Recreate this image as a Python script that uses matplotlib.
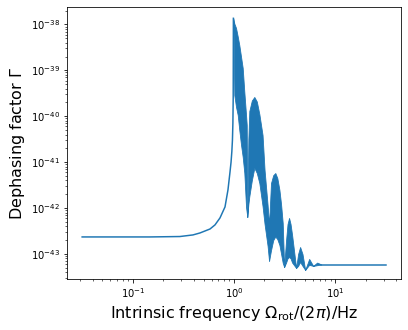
import numpy as np
import matplotlib
matplotlib.use("Agg")
import matplotlib.pyplot as plt

# smooth resonance part, left of the peak
res_x = [0.0316, 0.147, 0.292, 0.393, 0.461, 0.579, 0.649, 0.727, 0.815,
         0.872, 0.913, 0.935, 0.952, 0.965, 0.975, 0.982, 0.986]
res_y = [2.35e-43, 2.35e-43, 2.4e-43, 2.6e-43, 2.87e-43, 3.5e-43, 4.3e-43,
         6.1e-43, 1.06e-42, 2.5e-42, 6.1e-42, 1.0e-41, 1.7e-41, 3.0e-41,
         7e-41, 2.5e-40, 1.36e-38]

# fast oscillating band: upper and lower envelope
band_x = [0.986, 1.007, 1.047, 1.088, 1.128, 1.173, 1.219, 1.265, 1.315, 1.336,
          1.354, 1.386, 1.417, 1.50, 1.588, 1.68, 1.78, 1.915, 2.004, 2.147,
          2.22, 2.32, 2.44, 2.56, 2.68, 2.81, 2.92, 3.03, 3.13, 3.27,
          3.38, 3.50, 3.62, 3.75, 4.11, 4.3, 4.5, 4.75, 5.05, 5.53,
          6.06, 6.63, 7.3]
band_hi = [1.36e-38, 1.05e-38, 8.4e-39, 5.5e-39, 3.57e-39, 2.0e-39, 1.13e-39,
           3.4e-40, 1.07e-40, 6.5e-41, 6.4e-43, 3.05e-41, 1.3e-40, 2.2e-40,
           2.63e-40, 2.1e-40, 1.12e-40, 3.9e-41, 6.8e-42, 1.17e-42, 4.3e-43,
           3.5e-42, 5.2e-42, 5.8e-42, 4.5e-42, 2.5e-42, 1.2e-42, 4.7e-43,
           5.2e-44, 2.0e-43, 4.5e-43, 6.1e-43, 4.5e-43, 2.6e-43, 4.95e-44,
           1.0e-43, 1.42e-43, 1.0e-43, 4.5e-44, 7.8e-44, 5.5e-44, 6.5e-44,
           5.9e-44]
band_lo = [1.36e-38, 2.9e-40, 1.6e-40, 1.07e-40, 5e-41, 2.4e-41, 1.3e-41,
           5.8e-42, 1.06e-42, 8e-43, 6.4e-43, 1.2e-42, 1.8e-42, 4e-42,
           7.5e-42, 5.8e-42, 3.5e-42, 1.1e-42, 4.5e-43, 1.5e-43, 7e-44,
           1.2e-43, 2e-43, 2.4e-43, 2.1e-43, 1.57e-43, 1e-43, 6.4e-44,
           5.2e-44, 6.5e-44, 8e-44, 8.6e-44, 8e-44, 6.5e-44, 4.95e-44,
           5.5e-44, 6.7e-44, 5.5e-44, 4.5e-44, 5.8e-44, 5.5e-44, 5.7e-44,
           5.9e-44]

# flat tail
tail_x = [7.3, 31.6]
tail_y = [5.9e-44, 5.9e-44]

c = "#1f77b4"

fig = plt.figure(figsize=(408 / 72, 330 / 72), dpi=72)
ax = fig.add_axes([67 / 408, 51 / 330, 334 / 408, 272 / 330])
ax.plot(res_x, res_y, color=c)
ax.fill_between(band_x, band_lo, band_hi, color=c, linewidth=0.8, edgecolor=c)
ax.plot(tail_x, tail_y, color=c)
ax.set_xscale("log")
ax.set_yscale("log")
ax.set_xlim(10 ** -1.65, 10 ** 1.65)
ax.set_ylim(10 ** -43.545, 10 ** -37.62)
ax.set_xlabel(r"Intrinsic frequency $\Omega_{\rm rot}/(2\pi)$/Hz", fontsize=16)
ax.set_ylabel(r"Dephasing factor $\Gamma$", fontsize=16)

fig.savefig("out.png", dpi=72)
